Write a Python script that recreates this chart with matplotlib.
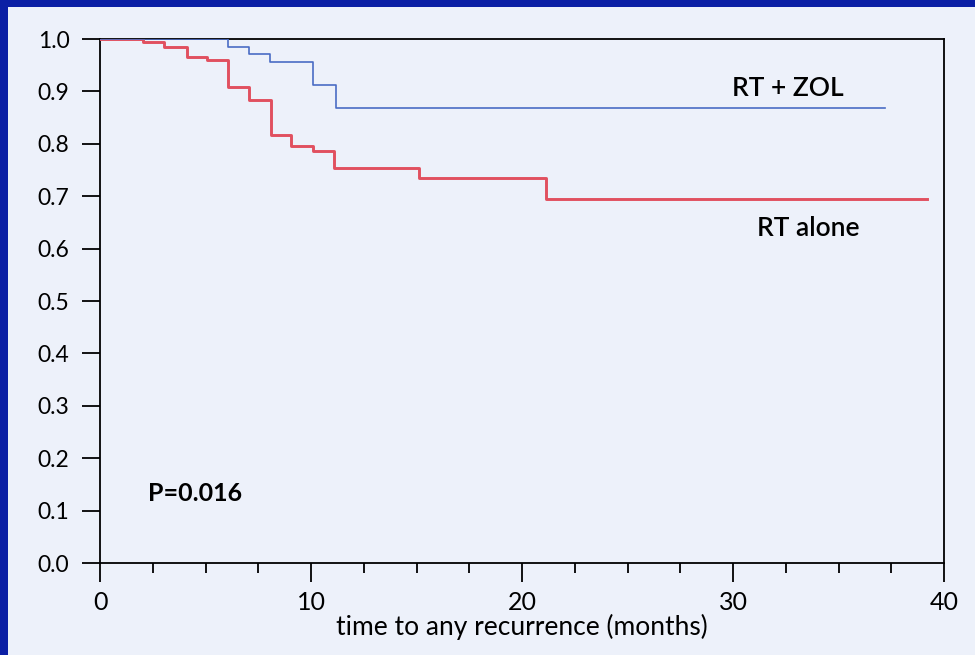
import matplotlib
matplotlib.use('Agg')
import matplotlib.pyplot as plt
from matplotlib.ticker import MultipleLocator

# Kaplan-Meier steps (months, proportion free of recurrence)
rt_alone_t = [0, 2.05, 3.03, 4.1, 5.06, 6.05, 7.08, 8.1, 9.07, 10.08, 11.1, 15.1, 21.15, 39.2]
rt_alone_s = [1.0, 0.995, 0.985, 0.966, 0.960, 0.909, 0.884, 0.817, 0.796, 0.787, 0.753, 0.734, 0.694, 0.694]
rt_zol_t = [0, 6.05, 7.08, 8.06, 10.1, 11.17, 37.2]
rt_zol_s = [1.0, 0.985, 0.971, 0.956, 0.913, 0.869, 0.869]

x_ticks = [0, 10, 20, 30, 40]
y_ticks = [0.0, 0.1, 0.2, 0.3, 0.4, 0.5, 0.6, 0.7, 0.8, 0.9, 1.0]

plt.rcParams['font.family'] = ['Lato', 'DejaVu Sans']

fig = plt.figure(figsize=(9.75, 6.55), dpi=100)
fig.patch.set_facecolor('#0b1fa5')
# light panel inside the dark blue frame
fig.add_artist(plt.Rectangle((8 / 975, 0), 1, 1 - 7 / 655, transform=fig.transFigure,
                             facecolor='#edf1fa', edgecolor='none', zorder=0))

ax = fig.add_axes([100 / 975, 1 - 563 / 655, 844 / 975, 524 / 655])
ax.set_facecolor('#edf1fa')

ax.step(rt_alone_t, rt_alone_s, where='post', color='#e1505f', linewidth=2.1, zorder=3)
ax.step(rt_zol_t, rt_zol_s, where='post', color='#4a6cc4', linewidth=1.2, zorder=4)

ax.set_xlim(0, 40)
ax.set_ylim(0, 1.0)
ax.set_xticks(x_ticks)
ax.set_yticks(y_ticks)
ax.set_yticklabels([f'{v:.1f}' for v in y_ticks])
ax.xaxis.set_minor_locator(MultipleLocator(2.5))

ax.tick_params(axis='x', which='major', length=14, width=1.3, pad=6, labelsize=18, direction='out')
ax.tick_params(axis='x', which='minor', length=7, width=1.3, direction='out')
ax.tick_params(axis='y', which='major', length=13, width=1.3, pad=9, labelsize=16.5, direction='out')
for s in ax.spines.values():
    s.set_linewidth(1.3)

ax.set_xlabel('time to any recurrence (months)', fontsize=19, labelpad=0)

ax.text(32.6, 0.906, 'RT + ZOL', fontsize=19, fontweight='semibold', ha='center', va='center')
ax.text(33.55, 0.639, 'RT alone', fontsize=19, fontweight='semibold', ha='center', va='center')
ax.text(4.5, 0.132, 'P=0.016', fontsize=18, fontweight='bold', ha='center', va='center')

fig.savefig('out.png', dpi=100, facecolor=fig.get_facecolor())
